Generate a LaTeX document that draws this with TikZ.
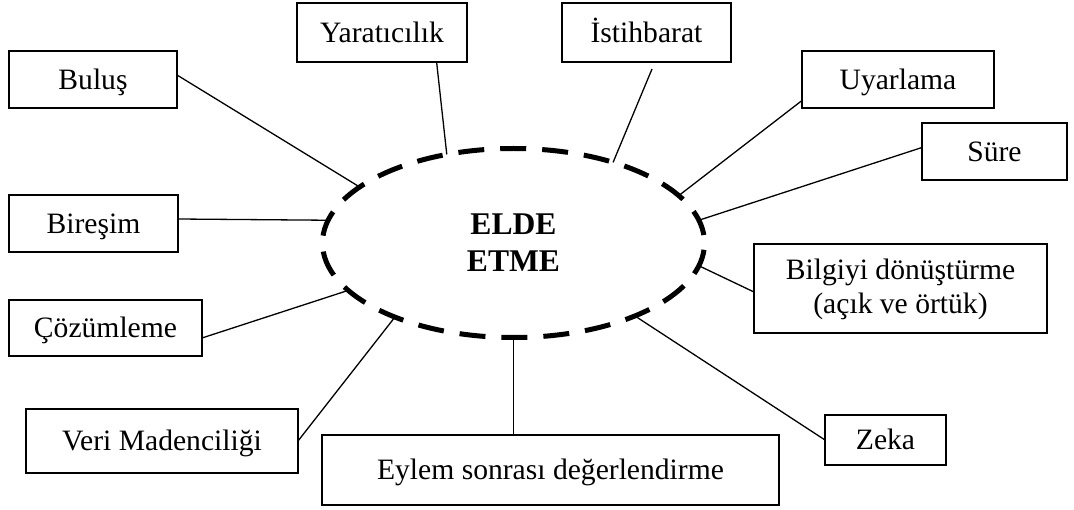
\documentclass[tikz,border=0pt]{standalone}
\usepackage{fontspec}
\setmainfont{Liberation Serif}
\usetikzlibrary{shapes.geometric,calc}
\begin{document}
\begin{tikzpicture}[x=1pt,y=-1pt,
  boxbase/.style={draw,line width=1.6pt,rectangle,inner sep=0pt,outer sep=0pt,
    font=\fontsize{29.6}{34}\selectfont},
  box/.style={boxbase,text height=19.6pt,text depth=0pt},
  link/.style={line width=1.3pt},
  hub/.style={ellipse,draw,line width=5pt,dash pattern=on 26pt off 16pt,
    dash phase=34pt,minimum width=382pt,minimum height=189pt,
    inner sep=0pt,outer sep=0pt,
    font=\bfseries\fontsize{31.6}{36.7}\selectfont,align=center}]
\fill[white] (0,0) rectangle (1074,510);
\useasboundingbox (0,0) rectangle (1074,510);

% central concept
\node[hub] (c) at (513.5,243) {ELDE\\ETME};

% surrounding concepts
\node[box,minimum width=168pt,minimum height=57pt] (bu) at (93,79.5) {Buluş};
\node[box,minimum width=170pt,minimum height=59pt] (ya) at (382,32.5) {Yaratıcılık};
\node[box,minimum width=169pt,minimum height=59pt] (is) at (646.5,32.5) {İstihbarat};
\node[box,minimum width=192pt,minimum height=57pt] (uy) at (898,79.5) {Uyarlama};
\node[box,minimum width=145pt,minimum height=57pt] (su) at (994.5,151.5) {Süre};
\node[boxbase,align=center,text depth=4pt,minimum width=293pt,minimum height=89pt] (bd) at (900.5,288.5) {Bilgiyi dönüştürme\\(açık ve örtük)};
\node[box,minimum width=121pt,minimum height=50pt] (ze) at (885.5,440) {Zeka};
\node[box,minimum width=457pt,minimum height=70pt] (ey) at (550.5,470) {Eylem sonrası değerlendirme};
\node[box,minimum width=272pt,minimum height=64pt] (vm) at (162,441) {Veri Madenciliği};
\node[box,minimum width=193pt,minimum height=56pt] (co) at (105.5,328) {Çözümleme};
\node[box,minimum width=169pt,minimum height=57pt] (bi) at (93.5,223.5) {Bireşim};

% connectors to the central ellipse
\draw[link] ($(bu.east)+(0,-4.5)$) -- (c.160);
\draw[link] ($(ya.south)+(54.6,0)$) -- (c.127);
\draw[link] ($(is.south)+(5.5,7)$) -- (c.39);
\draw[link] ($(uy.west)+(0,21)$) -- (c.16);
\draw[link] ($(su.west)+(0,-4)$) -- (c.7);
\draw[link] ($(bd.west)+(0,3.5)$) -- (c.353);
\draw[link] (ze.west) -- (c.329);
\draw[link] (c.south) -- (c.south |- ey.north);
\draw[link] (vm.east) -- (c.212);
\draw[link] ($(co.east)+(0,10)$) -- (c.196);
\draw[link] ($(bi.east)+(0,-4.5)$) -- (c.173);
\end{tikzpicture}
\end{document}
